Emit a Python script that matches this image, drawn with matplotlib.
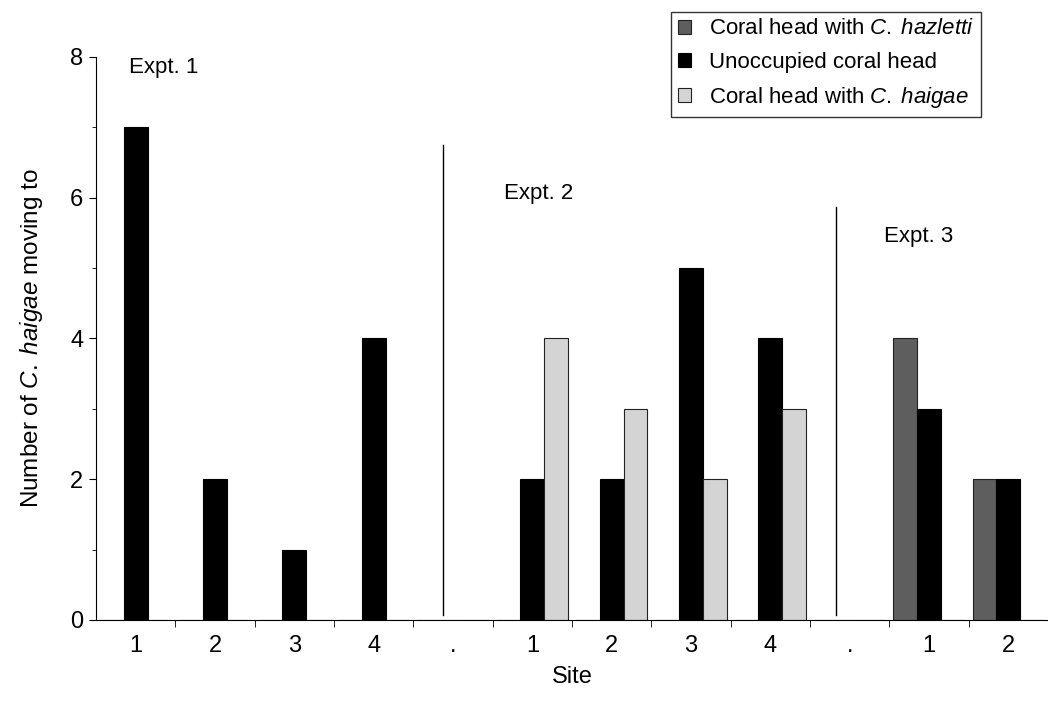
import numpy as np
import matplotlib.pyplot as plt
from matplotlib.ticker import MultipleLocator, FixedLocator

plt.rcParams['font.family'] = 'Liberation Sans'
plt.rcParams['mathtext.fontset'] = 'custom'
plt.rcParams['mathtext.it'] = 'Liberation Sans:italic'
plt.rcParams['mathtext.rm'] = 'Liberation Sans'

# Dados
sites = ['1', '2', '3', '4', '.', '1', '2', '3', '4', '.', '1', '2']
hazletti = [0, 0, 0, 0, 0, 0, 0, 0, 0, 0, 4, 2]
unoccupied = [7, 2, 1, 4, 0, 2, 2, 5, 4, 0, 3, 2]
haigae = [0, 0, 0, 0, 0, 4, 3, 2, 3, 0, 0, 0]

x = np.arange(len(sites))
w = 0.3

fig = plt.figure(figsize=(10.48, 7.11), dpi=100)
ax = fig.add_axes([0.0916, 0.128, 0.9084, 0.792])

ax.bar(x - w, hazletti, w, color='#5e5e5e', edgecolor='#222222', linewidth=0.8,
       label=r'Coral head with $\mathit{C.\;hazletti}$')
ax.bar(x, unoccupied, w, color='black', edgecolor='black', linewidth=0.8,
       label='Unoccupied coral head')
ax.bar(x + w, haigae, w, color='#d4d4d4', edgecolor='#222222', linewidth=0.8,
       label=r'Coral head with $\mathit{C.\;haigae}$')

# Linhas separando os experimentos
ax.plot([3.88, 3.88], [0.07, 6.75], color='black', linewidth=1)
ax.plot([8.83, 8.83], [0.07, 5.87], color='black', linewidth=1)

ax.text(-0.08, 7.77, 'Expt. 1', fontsize=16, va='baseline')
ax.text(4.64, 5.98, 'Expt. 2', fontsize=16, va='baseline')
ax.text(9.43, 5.37, 'Expt. 3', fontsize=16, va='baseline')

ax.set_xlim(-0.5, 11.5)
ax.set_ylim(0, 8)
ax.set_xticks(x)
ax.set_xticklabels(sites, fontsize=17)
ax.xaxis.set_minor_locator(FixedLocator(np.arange(0.5, 11.5, 1)))
ax.tick_params(axis='x', which='major', length=0, pad=11)
ax.tick_params(axis='x', which='minor', length=5, direction='out')
ax.yaxis.set_major_locator(MultipleLocator(2))
ax.yaxis.set_minor_locator(MultipleLocator(1))
ax.tick_params(axis='y', which='major', length=5, labelsize=17, pad=4)
ax.tick_params(axis='y', which='minor', length=3)

ax.spines['top'].set_visible(False)
ax.spines['right'].set_visible(False)

ax.set_xlabel('Site', fontsize=17, labelpad=6)
ax.set_ylabel(r'Number of $\mathit{C.\;haigae}$ moving to', fontsize=17.5, labelpad=18)

leg = ax.legend(loc='upper left', bbox_to_anchor=(0.6045, 1.08), fontsize=16,
                frameon=True, fancybox=False, edgecolor='black',
                handlelength=0.6, handleheight=0.6, handletextpad=0.8,
                borderpad=0.3, labelspacing=0.55, borderaxespad=0)
leg.get_frame().set_linewidth(1)

plt.savefig('out.png', dpi=100)
